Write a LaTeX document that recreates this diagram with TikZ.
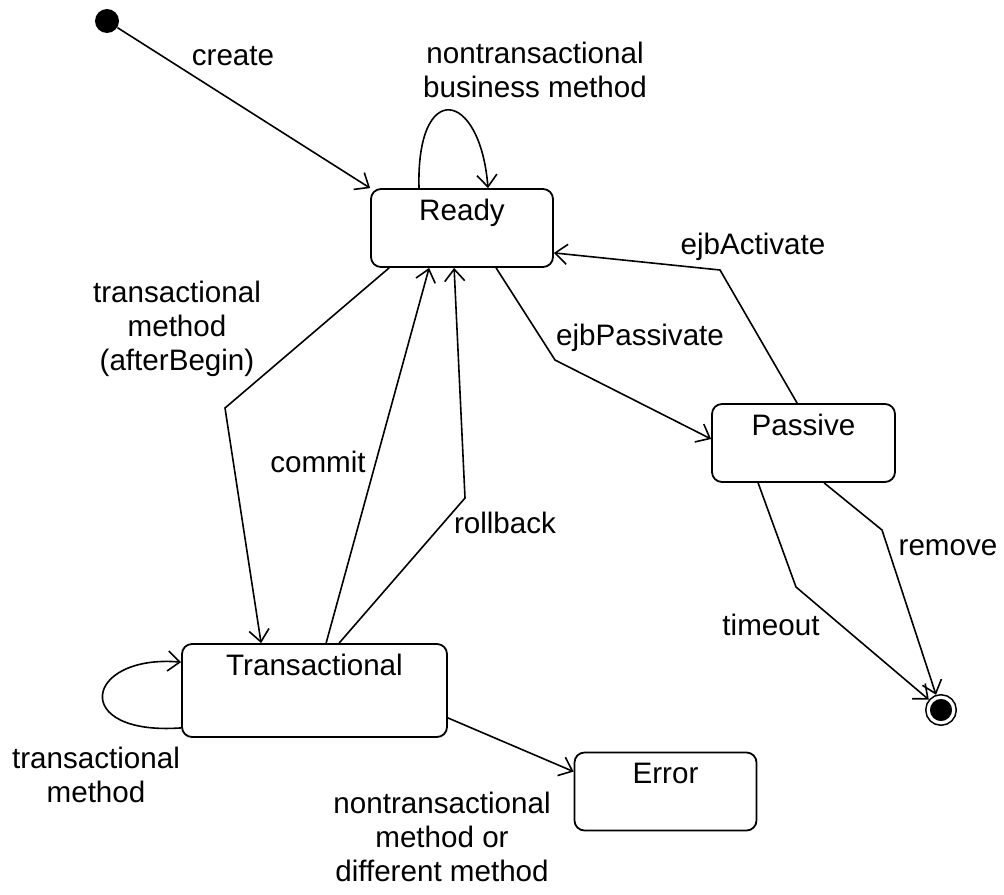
\documentclass[tikz,border=0pt]{standalone}
\usepackage{fontspec}
\setmainfont{Liberation Sans}
\usetikzlibrary{arrows.meta}

\begin{document}
\begin{tikzpicture}[x=0.5pt,y=-0.5pt,
  font=\fontsize{14.8}{17}\selectfont,
  stbox/.style={draw,rounded corners=5pt,line width=0.9pt,inner sep=0pt,
    minimum width=91pt,minimum height=39pt},
  stname/.style={anchor=north,inner sep=0pt,yshift=-5.5pt},
  lbl/.style={align=center,inner sep=0pt},
  tr/.style={-{Straight Barb[length=6pt,width=10pt]},line width=0.8pt}]
  \useasboundingbox (0,0) rectangle (1004,894);

  % --- states -----------------------------------------------------------
  \node[circle,fill=black,minimum size=12pt,inner sep=0pt] (init) at (107,21) {};
  \node[stbox,label={[stname]north:Ready}] (ready) at (462,228) {};
  \node[stbox,minimum width=91.5pt,label={[stname]north:Passive}] (passive) at (803.5,443) {};
  \node[stbox,minimum width=132.5pt,minimum height=46.5pt,
    label={[stname]north:Transactional}] (trans) at (314.5,690.5) {};
  \node[stbox,label={[stname]north:Error}] (error) at (665.5,791.5) {};
  \node[circle,draw,double=white,double distance=1.6pt,fill=black,line width=0.8pt,
    minimum size=12.8pt,inner sep=0pt,outer sep=1.6pt] (final) at (941,710) {};

  % bend points
  \coordinate (b1) at (225,408);
  \coordinate (b2) at (465,498);
  \coordinate (b3) at (555,360);
  \coordinate (b4) at (720,270);
  \coordinate (b5) at (796,587);
  \coordinate (b6) at (882,530);

  % --- transitions ------------------------------------------------------
  \draw[tr] (init) -- (ready.north west);
  \draw[tr] ([xshift=-21.5pt]ready.north) .. controls +(-3,-109) and +(-8,-99) .. ([xshift=13pt]ready.north);
  \draw[tr] ([xshift=9.5pt]ready.south west) -- (b1) -- ([xshift=40pt]trans.north west);
  \draw[tr] ([xshift=72.5pt]trans.north west) -- ([xshift=29.5pt]ready.south west);
  \draw[tr] ([xshift=79pt]trans.north west) -- (b2) -- ([xshift=42pt]ready.south west);
  \draw[tr] ([xshift=63pt]ready.south west) -- (b3) -- ([yshift=2pt]passive.west);
  \draw[tr] ([xshift=43pt]passive.north west) -- (b4) -- ([yshift=7.5pt]ready.south east);
  \draw[tr] ([xshift=23.5pt]passive.south west) -- (b5) -- (final);
  \draw[tr] ([xshift=56.5pt]passive.south west) -- (b6) -- (final);
  \draw[tr] ([yshift=5pt]trans.south west) .. controls +(-112,8) and +(-97,-8) .. ([yshift=-9.5pt]trans.north west);
  \draw[tr] ([yshift=10pt]trans.south east) -- ([yshift=-10pt]error.north west);

  % --- labels -----------------------------------------------------------
  \node[lbl] (lcreate) at (233,56) {create};
  \node[lbl] (lbusiness) at (535,70) {nontransactional\\business method};
  \node[lbl] (lbegin) at (177,329) {transactional\\method\\(afterBegin)};
  \node[lbl] (lcommit) at (318,462) {commit};
  \node[lbl] (lrollback) at (505,523) {rollback};
  \node[lbl] (lpassivate) at (640,338) {ejbPassivate};
  \node[lbl] (lactivate) at (753,247) {ejbActivate};
  \node[lbl] (lremove) at (948,548) {remove};
  \node[lbl] (ltimeout) at (771,625) {timeout};
  \node[lbl] (ltrans) at (96,775) {transactional\\method};
  \node[lbl] (lother) at (442,837) {nontransactional\\method or\\different method};
\end{tikzpicture}
\end{document}
